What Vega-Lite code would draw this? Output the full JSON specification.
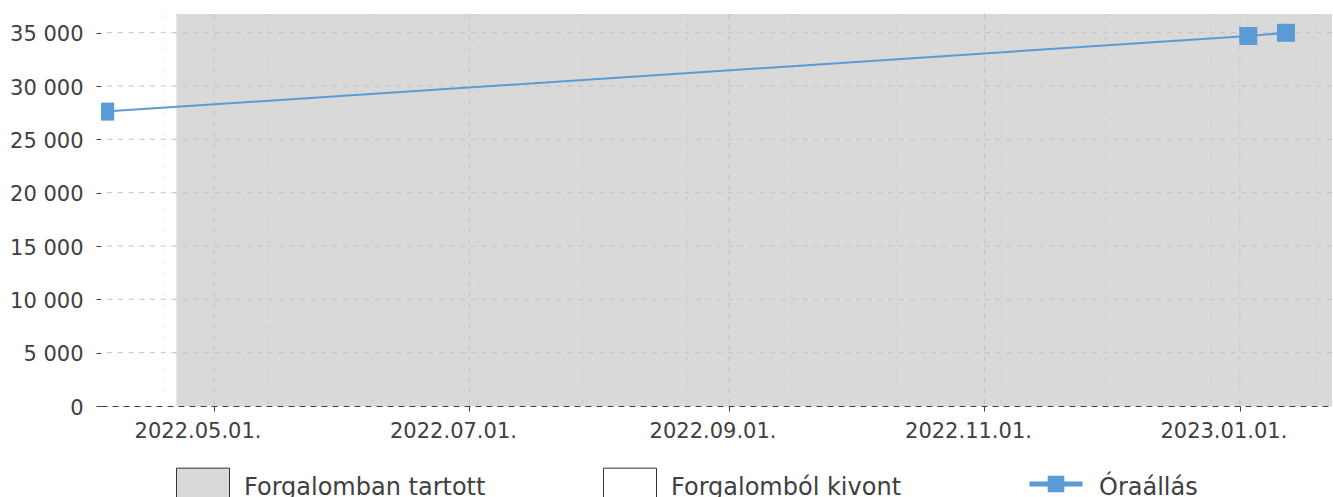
{
  "$schema": "https://vega.github.io/schema/vega-lite/v6.json",
  "width": 1231,
  "height": 392,
  "autosize": {"type": "none"},
  "padding": {"left": 101, "top": 14, "right": 1, "bottom": 91},
  "background": "#ffffff",
  "config": {
    "font": "DejaVu Sans",
    "view": {"stroke": null},
    "locale": {
      "number": {"decimal": ",", "thousands": " ", "grouping": [3], "currency": ["", " Ft"]}
    }
  },
  "resolve": {"scale": {"fill": "independent"}, "legend": {"fill": "independent"}},
  "datasets": {
    "status": [
      {"start": "2022-04-04", "end": "2022-04-22", "status": "Forgalomból kivont"},
      {"start": "2022-04-22", "end": "2023-01-23", "status": "Forgalomban tartott"}
    ],
    "readings": [
      {"date": "2022-04-05", "km": 27600, "series": "Óraállás"},
      {"date": "2023-01-03", "km": 34690, "series": "Óraállás"},
      {"date": "2023-01-12", "km": 34990, "series": "Óraállás"}
    ],
    "xgrid": [
      {"date": "2022-05-01", "kind": "major"},
      {"date": "2022-07-01", "kind": "major"},
      {"date": "2022-09-01", "kind": "major"},
      {"date": "2022-11-01", "kind": "major"},
      {"date": "2023-01-01", "kind": "major"},
      {"date": "2022-04-19", "kind": "minor"},
      {"date": "2022-05-14", "kind": "minor"},
      {"date": "2022-06-08", "kind": "minor"},
      {"date": "2022-07-03", "kind": "minor"},
      {"date": "2022-07-28", "kind": "minor"},
      {"date": "2022-08-22", "kind": "minor"},
      {"date": "2022-09-16", "kind": "minor"},
      {"date": "2022-10-11", "kind": "minor"},
      {"date": "2022-11-05", "kind": "minor"},
      {"date": "2022-11-30", "kind": "minor"},
      {"date": "2022-12-25", "kind": "minor"},
      {"date": "2023-01-19", "kind": "minor"}
    ],
    "ygrid": [
      {"v": 5000}, {"v": 10000}, {"v": 15000}, {"v": 20000}, {"v": 25000}, {"v": 30000}, {"v": 35000}
    ]
  },
  "layer": [
    {
      "data": {"name": "status"},
      "mark": {"type": "rect"},
      "encoding": {
        "x": {
          "field": "start", "type": "temporal",
          "scale": {"type": "utc", "domain": [{"year": 2022, "month": 4, "date": 4, "utc": true}, {"year": 2023, "month": 1, "date": 23, "utc": true}], "nice": false},
          "axis": {
            "title": null,
            "values": [{"year": 2022, "month": 5, "date": 1, "utc": true}, {"year": 2022, "month": 7, "date": 1, "utc": true}, {"year": 2022, "month": 9, "date": 1, "utc": true}, {"year": 2022, "month": 11, "date": 1, "utc": true}, {"year": 2023, "month": 1, "date": 1, "utc": true}],
            "labelExpr": "utcFormat(datum.value, '%Y.%m.%d.')",
            "grid": false,
            "labelFontSize": 21,
            "labelColor": "#404040",
            "labelPadding": 9.5,
            "labelOffset": -16.5,
            "tickSize": 5,
            "tickColor": "#404040",
            "domainColor": "#404040",
            "domainDash": [6, 5],
            "labelFlush": false,
            "labelOverlap": false
          }
        },
        "x2": {"field": "end"},
        "fill": {
          "field": "status", "type": "nominal",
          "scale": {"domain": ["Forgalomban tartott", "Forgalomból kivont"], "range": ["#d9d9d9", "#ffffff"]},
          "legend": {
            "title": null,
            "orient": "none",
            "legendX": 75,
            "legendY": 443,
            "direction": "horizontal",
            "columns": 2,
            "gridAlign": "all",
            "columnPadding": 115,
            "padding": 0,
            "symbolSize": 2809,
            "symbolType": "M-1,-0.6H1V0.6H-1Z",
            "symbolOpacity": 1,
            "symbolStrokeColor": "#333333",
            "symbolStrokeWidth": 1,
            "labelFontSize": 24,
            "labelColor": "#404040",
            "labelOffset": 14,
            "labelLimit": 400,
            "encode": {"labels": {"update": {"dy": {"value": 4}}}}
          }
        }
      }
    },
    {
      "data": {"name": "xgrid"},
      "transform": [{"filter": "datum.kind == 'minor'"}],
      "mark": {"type": "rule", "color": "#000000", "strokeOpacity": 0.06, "strokeWidth": 1, "strokeDash": [5, 5.7]},
      "encoding": {"x": {"field": "date", "type": "temporal"}}
    },
    {
      "data": {"name": "xgrid"},
      "transform": [{"filter": "datum.kind == 'major'"}],
      "mark": {"type": "rule", "color": "#c2c2c2", "strokeWidth": 1, "strokeDash": [5, 5.7]},
      "encoding": {"x": {"field": "date", "type": "temporal"}}
    },
    {
      "data": {"name": "ygrid"},
      "mark": {"type": "rule", "color": "#c2c2c2", "strokeWidth": 1, "strokeDash": [5, 5.7]},
      "encoding": {"y": {"field": "v", "type": "quantitative"}}
    },
    {
      "data": {"name": "readings"},
      "mark": {"type": "line", "strokeWidth": 2, "color": "#5b9bd5", "clip": true},
      "encoding": {
        "x": {"field": "date", "type": "temporal"},
        "y": {
          "field": "km", "type": "quantitative",
          "scale": {"domain": [0, 36750], "nice": false, "zero": true},
          "axis": {
            "title": null,
            "values": [0, 5000, 10000, 15000, 20000, 25000, 30000, 35000],
            "format": ",d",
            "grid": false,
            "labelFontSize": 21,
            "labelColor": "#404040",
            "labelPadding": 13,
            "labelOffset": 2,
            "tickSize": 5,
            "tickColor": "#404040",
            "domainColor": "#404040"
          }
        }
      }
    },
    {
      "data": {"name": "readings"},
      "mark": {"type": "point", "shape": "square", "size": 324, "filled": true, "opacity": 1, "clip": true},
      "encoding": {
        "x": {"field": "date", "type": "temporal"},
        "y": {"field": "km", "type": "quantitative"},
        "fill": {
          "field": "series", "type": "nominal",
          "scale": {"domain": ["Óraállás"], "range": ["#5b9bd5"]},
          "legend": {
            "title": null,
            "orient": "none",
            "legendX": 926,
            "legendY": 441,
            "padding": 0,
            "symbolSize": 2809,
            "symbolType": "M-1,0H1M-0.22,-0.22H0.22V0.22H-0.22Z",
            "symbolOpacity": 1,
            "symbolStrokeColor": "#5b9bd5",
            "symbolStrokeWidth": 5,
            "labelFontSize": 24,
            "labelColor": "#404040",
            "labelOffset": 14,
            "labelLimit": 400,
            "encode": {"labels": {"update": {"dy": {"value": 4}}}}
          }
        }
      }
    }
  ]
}
